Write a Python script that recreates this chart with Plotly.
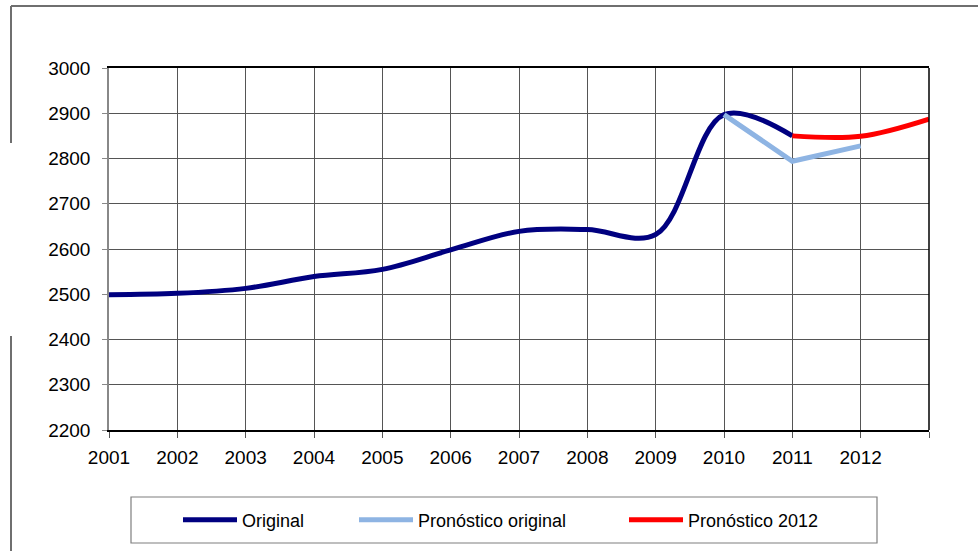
import plotly.graph_objects as go

years_original = [2001, 2002, 2003, 2004, 2005, 2006, 2007, 2008, 2009, 2010, 2011]
original = [2499, 2502, 2513, 2539, 2555, 2598, 2639, 2643, 2632, 2897, 2850]

years_pron_orig = [2010, 2011, 2012]
pron_original = [2897, 2794, 2828]

years_pron_2012 = [2011, 2012, 2013]
pron_2012 = [2850, 2849, 2887]

tick_years = list(range(2001, 2014))
tick_labels = [str(y) for y in range(2001, 2013)] + [""]

W, H = 978, 558
L, R, T, B = 109, 49, 68, 128
PW, PH = W - L - R, H - T - B


def px_x(px):
    return (px - L) / PW


def px_y(py):
    return (H - B - py) / PH


FONT = "Liberation Sans"

fig = go.Figure()
fig.add_trace(go.Scatter(
    x=years_original, y=original, mode="lines", name="Original",
    line=dict(color="#000080", width=5, shape="spline", smoothing=1),
    legend="legend"))
fig.add_trace(go.Scatter(
    x=years_pron_orig, y=pron_original, mode="lines", name="Pronóstico original",
    line=dict(color="#8EB4E3", width=5),
    legend="legend2"))
fig.add_trace(go.Scatter(
    x=years_pron_2012, y=pron_2012, mode="lines", name="Pronóstico 2012",
    line=dict(color="#FF0000", width=5, shape="spline", smoothing=1),
    legend="legend3"))

leg_common = dict(orientation="h", yanchor="middle", y=px_y(520), xanchor="left",
                  font=dict(family=FONT, size=18, color="#000000"),
                  bgcolor="rgba(0,0,0,0)", borderwidth=0, itemwidth=54)

fig.update_layout(
    width=W, height=H,
    margin=dict(l=L, r=R, t=T, b=B, autoexpand=False),
    paper_bgcolor="white", plot_bgcolor="white",
    font=dict(family=FONT, size=19, color="#000000"),
    showlegend=True,
    legend=dict(x=px_x(178), **leg_common),
    legend2=dict(x=px_x(354), **leg_common),
    legend3=dict(x=px_x(624), **leg_common),
    xaxis=dict(
        range=[2001, 2013], tickmode="array", tickvals=tick_years, ticktext=tick_labels,
        showgrid=True, gridcolor="#555555", gridwidth=1,
        showline=True, linecolor="#000000", linewidth=1.5, mirror=True,
        ticks="outside", ticklen=6, tickcolor="#555555",
        ticklabelstandoff=3,
        zeroline=False, fixedrange=True,
        tickfont=dict(family=FONT, size=19),
    ),
    yaxis=dict(
        range=[2200, 3000], tickmode="linear", tick0=2200, dtick=100,
        showgrid=True, gridcolor="#555555", gridwidth=1,
        showline=True, linecolor="#888888", linewidth=1.5,
        ticks="outside", ticklen=5, tickcolor="#888888",
        ticklabelstandoff=8,
        zeroline=False, fixedrange=True,
        tickfont=dict(family=FONT, size=19),
    ),
    shapes=[
        # legend box
        dict(type="rect", xref="paper", yref="paper",
             x0=px_x(131), x1=px_x(877), y0=px_y(543), y1=px_y(497),
             line=dict(color="#7f7f7f", width=1.2), fillcolor="rgba(0,0,0,0)", layer="below"),
        # right plot border
        dict(type="line", xref="paper", yref="paper", x0=1, x1=1, y0=0, y1=1,
             line=dict(color="#000000", width=1.5)),
        # outer chart frame fragments
        dict(type="line", xref="paper", yref="paper",
             x0=px_x(11), x1=px_x(978), y0=px_y(6), y1=px_y(6),
             line=dict(color="#6f6f6f", width=2)),
        dict(type="line", xref="paper", yref="paper",
             x0=px_x(11), x1=px_x(11), y0=px_y(6), y1=px_y(143),
             line=dict(color="#6f6f6f", width=2)),
        dict(type="line", xref="paper", yref="paper",
             x0=px_x(11), x1=px_x(11), y0=px_y(336), y1=px_y(551),
             line=dict(color="#6f6f6f", width=2)),
    ],
)

fig.write_html("out.html", config={"displayModeBar": False},
               post_script="document.body.style.margin='0';document.body.style.overflow='hidden';")
